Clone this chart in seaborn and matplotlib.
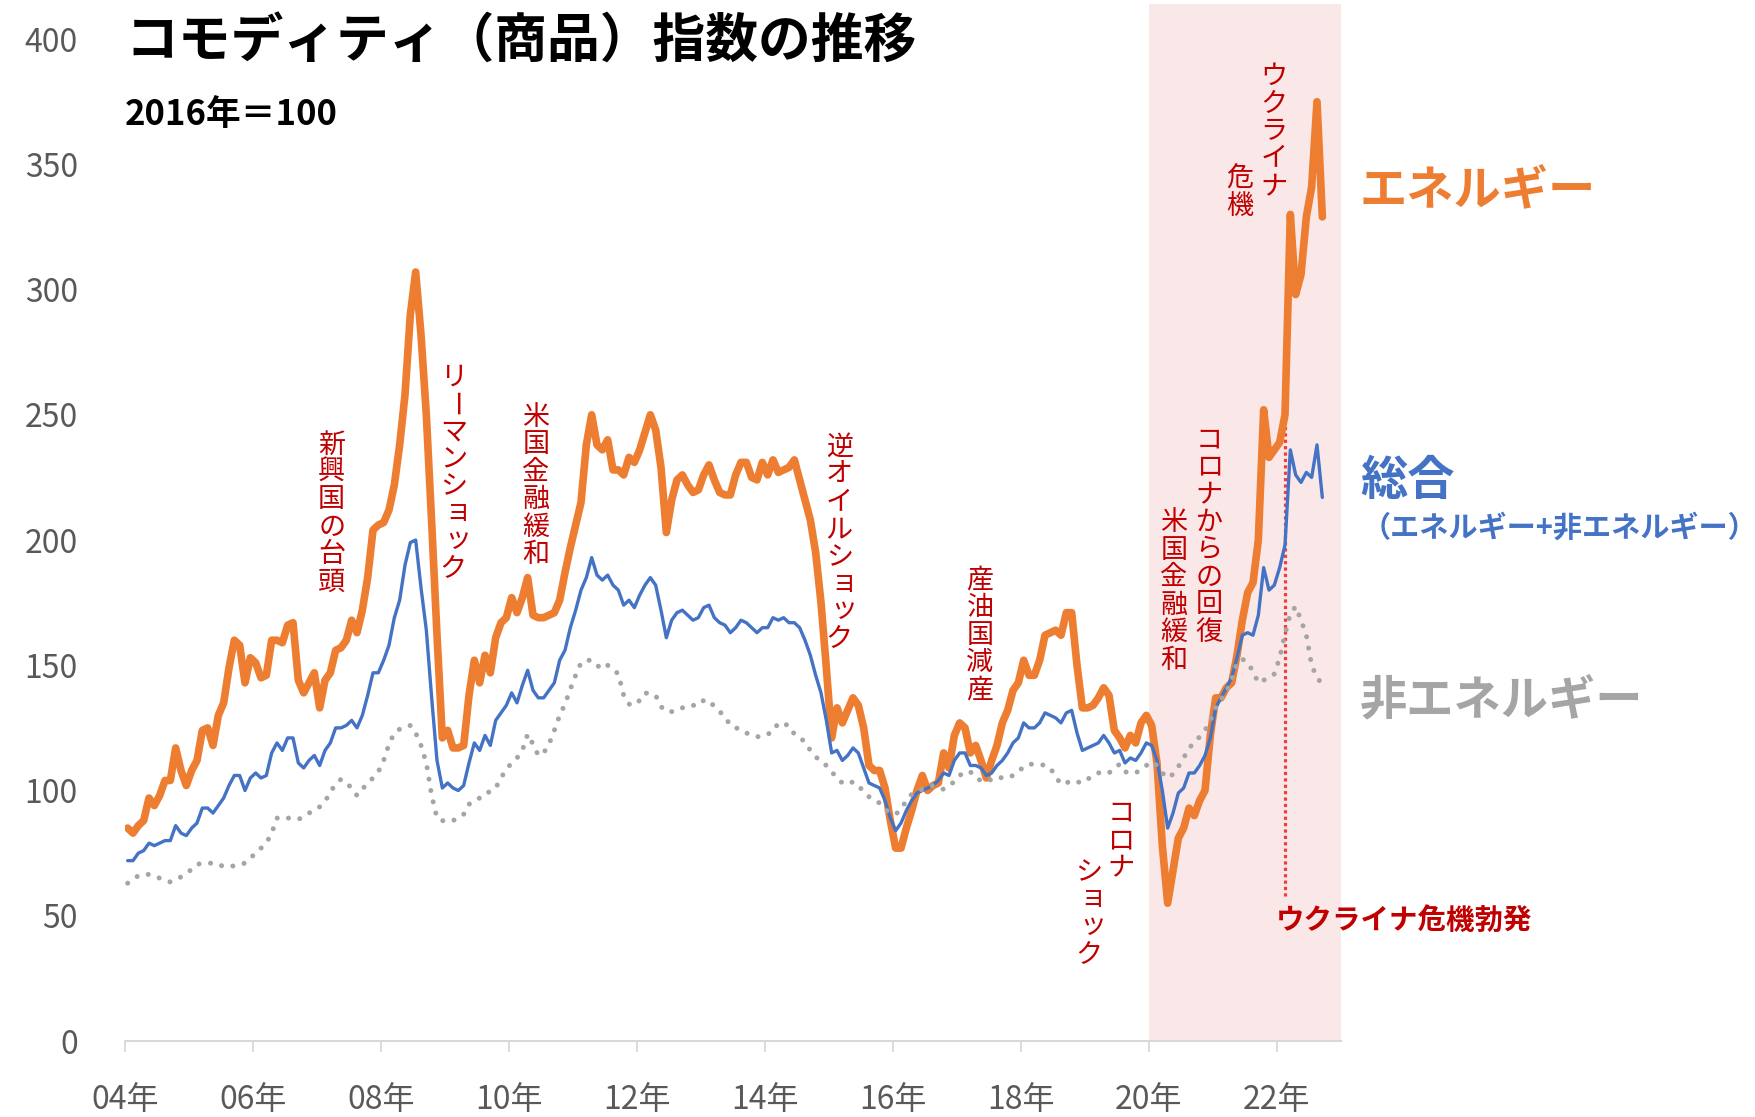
import numpy as np
import pandas as pd
import seaborn as sns
import matplotlib.pyplot as plt

# monthly index values, 2016 = 100, Jan 2004 .. Sep 2022
energy = [
    85, 83, 86, 88, 97, 94, 98, 104, 104, 117, 108, 102,      # 04
    108, 112, 124, 125, 118, 130, 135, 149, 160, 158, 143, 153,  # 05
    151, 145, 146, 160, 160, 159, 166, 167, 144, 139, 143, 147,  # 06
    133, 144, 147, 156, 157, 160, 168, 163, 172, 185, 204, 206,  # 07
    207, 212, 222, 238, 258, 290, 307, 282, 250, 207, 162, 121,  # 08
    124, 117, 117, 118, 138, 152, 143, 154, 147, 161, 167, 169,  # 09
    177, 171, 177, 185, 170, 169, 169, 170, 171, 176, 187, 197,  # 10
    206, 215, 238, 250, 238, 236, 240, 228, 228, 226, 233, 231,  # 11
    236, 243, 250, 244, 229, 203, 216, 224, 226, 222, 219, 220,  # 12
    226, 230, 224, 219, 218, 218, 226, 231, 231, 225, 224, 231,  # 13
    226, 232, 227, 228, 229, 232, 224, 216, 208, 195, 175, 149,  # 14
    121, 133, 127, 132, 137, 134, 125, 110, 108, 108, 101, 88,   # 15
    77, 77, 85, 92, 100, 106, 100, 102, 103, 115, 109, 122,      # 16
    127, 125, 115, 118, 112, 105, 112, 118, 127, 132, 140, 143,  # 17
    152, 146, 146, 152, 162, 163, 164, 162, 171, 171, 150, 133,  # 18
    133, 134, 137, 141, 138, 124, 121, 117, 122, 119, 127, 130,  # 19
    126, 111, 78, 55, 68, 81, 85, 93, 90, 96, 100, 122,          # 20
    137, 137, 141, 143, 154, 168, 179, 183, 200, 252, 233, 236,  # 21
    239, 250, 330, 298, 306, 329, 341, 375, 329,                 # 22
]
total = [
    72, 72, 75, 76, 79, 78, 79, 80, 80, 86, 83, 82,
    85, 87, 93, 93, 91, 94, 97, 102, 106, 106, 100, 105,
    107, 105, 106, 115, 119, 116, 121, 121, 111, 109, 112, 114,
    110, 116, 119, 125, 125, 126, 128, 125, 130, 138, 147, 147,
    152, 158, 169, 176, 190, 199, 200, 181, 164, 137, 112, 101,
    103, 101, 100, 102, 111, 119, 116, 122, 118, 128, 131, 134,
    139, 135, 142, 148, 140, 137, 137, 140, 143, 152, 156, 165,
    172, 180, 185, 193, 186, 184, 186, 182, 180, 174, 176, 173,
    178, 182, 185, 182, 172, 161, 168, 171, 172, 170, 168, 169,
    173, 174, 169, 167, 166, 163, 165, 168, 167, 165, 163, 165,
    165, 169, 168, 169, 167, 167, 165, 160, 154, 146, 139, 128,
    115, 116, 112, 114, 117, 115, 109, 103, 102, 101, 96, 89,
    84, 87, 92, 96, 99, 100, 101, 102, 104, 107, 106, 112,
    115, 115, 110, 110, 109, 106, 107, 110, 112, 115, 119, 121,
    127, 125, 125, 127, 131, 130, 129, 127, 131, 132, 123, 116,
    117, 118, 119, 122, 119, 115, 116, 111, 113, 112, 115, 119,
    118, 112, 100, 85, 91, 99, 101, 107, 107, 110, 114, 121,
    133, 137, 141, 145, 153, 162, 163, 162, 170, 189, 180, 182,
    189, 198, 236, 226, 223, 227, 225, 238, 217,
]
non_energy = [
    63, 64.5, 66, 66.5, 66.5, 66, 65, 64, 63.5, 64.5, 65.5, 67,
    68.5, 70.5, 71, 71, 71, 70, 70, 69.5, 70, 70.5, 71, 73,
    75, 77, 79, 83, 89, 88.5, 89, 89, 88.5, 89.5, 91, 92,
    93.5, 95.5, 99.5, 102.5, 104.5, 103, 101, 98, 100.5, 103, 105, 107.5,
    112, 118.5, 123, 124.5, 125, 126, 123, 118, 111, 98, 89, 88,
    87.5, 88, 89, 90.5, 94.5, 96, 97, 99, 99.5, 101, 105, 108.5,
    111, 113, 116, 122.5, 118.5, 114, 115, 118.5, 124, 130, 134.5, 140.5,
    146, 151, 152, 152, 150, 148.5, 150, 148.5, 146.5, 138, 134.5, 134,
    136, 139, 138.5, 138, 133.5, 131.5, 131.5, 132, 133, 134, 134, 134,
    136, 136, 133.5, 131.5, 129.5, 126, 125, 124.5, 123, 122, 121.5, 121.5,
    122.5, 123.5, 127, 126.5, 126, 122.5, 121, 119.5, 116, 113.5, 111.5, 110,
    107.5, 105, 103, 102.5, 103.5, 102, 99.5, 97.5, 96, 95, 92.5, 91,
    90.5, 92.5, 96, 98.5, 99.5, 100.5, 101.5, 102, 101, 100.5, 102, 103.5,
    106, 107.5, 107.5, 105, 104, 103.5, 104.5, 105.5, 105, 105, 106, 107.5,
    109.5, 110.5, 110.5, 110.5, 110, 109, 105.5, 102.5, 103, 104, 103.5, 103,
    104.5, 106, 107, 107.5, 107, 109, 110.5, 107.5, 107, 107, 108.5, 110,
    111.5, 110, 107, 105, 106.5, 109.5, 113, 117, 119, 121.5, 124, 128,
    133, 136.5, 139.5, 144, 151, 152.5, 151, 147.5, 143, 144, 145.5, 146.5,
    153, 162.5, 170.5, 173.5, 168, 162, 150, 145, 142.5,
]

tick_years = list(range(2004, 2023, 2))
tick_labels = [f'{y % 100:02d}年' for y in tick_years]
y_ticks = list(range(0, 401, 50))

# vertical annotations: text, x (year), y of first character
notes = [
    ('新興国の台頭', 2007.23, 238),
    ('リーマンショック', 2009.13, 265),
    ('米国金融緩和', 2010.42, 249),
    ('逆オイルショック', 2015.16, 237),
    ('産油国減産', 2017.36, 184),
    ('コロナ', 2019.56, 91),
    ('ショック', 2019.06, 67),
    ('コロナからの回復', 2020.94, 240),
    ('米国金融緩和', 2020.39, 207),
    ('ウクライナ', 2021.95, 385),
    ('危機', 2021.42, 344),
]

ORANGE = '#ED7D31'
BLUE = '#4472C4'
GRAY = '#A5A5A5'
RED = '#C00000'

n = len(energy)
months = np.arange(n)
df = pd.DataFrame({
    'year': 2004 + (months + 0.5) / 12,
    'energy': energy,
    'total': total,
    'non_energy': non_energy,
})

sns.set_theme(style='white')
plt.rcParams['font.family'] = ['Noto Sans CJK JP', 'DejaVu Sans']

fig = plt.figure(figsize=(17.55, 11.17), dpi=100)
ax = fig.add_axes([125 / 1755, 76 / 1117, 1216 / 1755, 1037 / 1117])

ax.axvspan(2020, 2023, color='#FAE8E8', zorder=0, lw=0)

sns.lineplot(data=df, x='year', y='energy', ax=ax, color=ORANGE, lw=5.5,
             solid_joinstyle='round', solid_capstyle='round', zorder=3)
sns.lineplot(data=df, x='year', y='total', ax=ax, color=BLUE, lw=2.4,
             solid_joinstyle='round', zorder=4)
sns.lineplot(data=df, x='year', y='non_energy', ax=ax, color=GRAY, lw=3.6,
             linestyle=(0, (0.01, 2.3)), dash_capstyle='round', zorder=5)

# start of the Ukraine crisis (Feb 2022)
ax.plot([2022 + 1.5 / 12] * 2, [58, 258], color='#F03C3C', lw=2.3,
        linestyle=(0, (1, 1)), zorder=2)

ax.set_xlim(2004, 2023)
ax.set_ylim(0, 414)
ax.set_xticks(tick_years)
ax.set_xticklabels(tick_labels)
ax.set_yticks(y_ticks)
ax.set_xlabel('')
ax.set_ylabel('')
for s in ['top', 'right', 'left']:
    ax.spines[s].set_visible(False)
ax.spines['bottom'].set_color('#D9D9D9')
ax.spines['bottom'].set_linewidth(1.5)
ax.tick_params(axis='x', length=8, width=1.3, color='#D9D9D9', pad=23,
               labelsize=23, labelcolor='#595959', bottom=True)
ax.tick_params(axis='y', length=0, pad=34, labelsize=23, labelcolor='#595959')

small = set('ァィゥェォッャュョ')
for text, x, y in notes:
    for k, ch in enumerate(text):
        dx, dy = 0, -k * 19.8
        rot = 0
        if ch in small:
            dx, dy = dx + 3, dy + 2
        if ch == 'ー':
            rot = -90
        ax.annotate(ch, (x, y), xytext=(dx, dy), textcoords='offset points',
                    ha='center', va='center', fontsize=19.5, color=RED,
                    rotation=rot)

ax.text(2022 + 1.5 / 12 - 0.15, 48, 'ウクライナ危機勃発', fontsize=20.5,
        fontweight='bold', color=RED, ha='left', va='center')

fig.text(125 / 1755, 1 - 42 / 1117, 'コモディティ（商品）指数の推移',
         fontsize=38, fontweight='bold', color='black', va='center')
fig.text(125 / 1755, 1 - 115 / 1117, '2016年＝100',
         fontsize=25, fontweight='bold', color='black', va='center')

fig.text(1360 / 1755, 1 - 190 / 1117, 'エネルギー', fontsize=34,
         fontweight='bold', color=ORANGE, va='center')
fig.text(1360 / 1755, 1 - 481 / 1117, '総合', fontsize=34,
         fontweight='bold', color=BLUE, va='center')
fig.text(1362 / 1755, 1 - 528 / 1117, '（エネルギー+非エネルギー）',
         fontsize=21, fontweight='bold', color=BLUE, va='center')
fig.text(1360 / 1755, 1 - 700 / 1117, '非エネルギー', fontsize=34,
         fontweight='bold', color=GRAY, va='center')

fig.savefig('out.png', dpi=100)
plt.close(fig)
